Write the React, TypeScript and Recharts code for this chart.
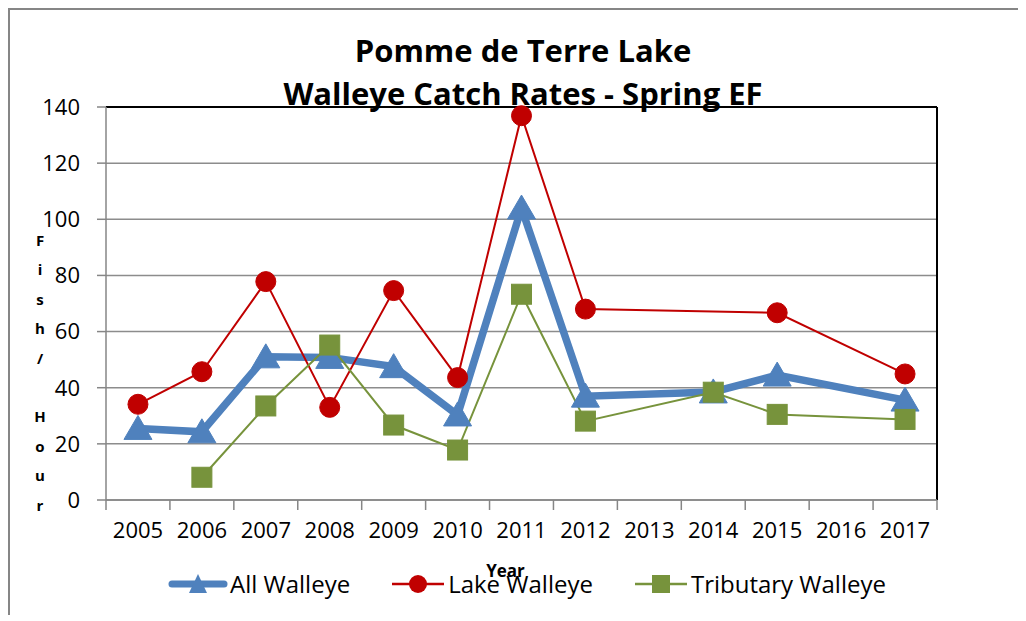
import React from 'react';
import {
  LineChart,
  Line,
  XAxis,
  YAxis,
  CartesianGrid,
  Legend,
  ReferenceLine,
} from 'recharts';

const YEARS = ['2005', '2006', '2007', '2008', '2009', '2010', '2011', '2012', '2013', '2014', '2015', '2016', '2017'];
const ALL_WALLEYE = [25.5, 24.3, 51, 50.8, 47.5, 30.3, 104, 37, null, 38.5, 44.5, null, 35.6];
const LAKE_WALLEYE = [34.1, 45.7, 77.8, 33, 74.6, 43.6, 136.9, 68, null, null, 66.7, null, 44.9];
const TRIB_WALLEYE = [null, 8.1, 33.5, 55.2, 26.7, 17.8, 73.3, 28.1, null, 38.4, 30.5, null, 28.7];
const Y_TICKS = [0, 20, 40, 60, 80, 100, 120, 140];
const TITLE_1 = 'Pomme de Terre Lake';
const TITLE_2 = 'Walleye Catch Rates - Spring EF';
const Y_LABEL = 'Fish/ Hour';
const X_LABEL = 'Year';
const SERIES_NAMES = ['All Walleye', 'Lake Walleye', 'Tributary Walleye'];

const BLUE = '#4F81BD';
const RED = '#C00000';
const GREEN = '#77933C';
const AXIS = '#868686';
const FONT = '"Open Sans", sans-serif';

const data = YEARS.map((y, i) => ({
  idx: i,
  year: y,
  all: ALL_WALLEYE[i],
  lake: LAKE_WALLEYE[i],
  trib: TRIB_WALLEYE[i],
}));

const labelTicks = YEARS.map((_, i) => i);
const boundaryTicks = [...YEARS.map((_, i) => i - 0.5), YEARS.length - 0.5];
const X_DOMAIN = [-0.5, YEARS.length - 0.5];

const TriangleDot = (props: any) => {
  const { cx, cy, index } = props;
  if (cx == null || cy == null || props.value == null) return <g key={`t${index}`} />;
  return (
    <polygon
      key={`t${index}`}
      points={`${cx},${cy - 13} ${cx - 14},${cy + 11} ${cx + 14},${cy + 11}`}
      fill={BLUE}
      stroke={BLUE}
    />
  );
};

const CircleDot = (props: any) => {
  const { cx, cy, index } = props;
  if (cx == null || cy == null || props.value == null) return <g key={`c${index}`} />;
  return <circle key={`c${index}`} cx={cx} cy={cy} r={10} fill={RED} stroke={RED} />;
};

const SquareDot = (props: any) => {
  const { cx, cy, index } = props;
  if (cx == null || cy == null || props.value == null) return <g key={`s${index}`} />;
  return <rect key={`s${index}`} x={cx - 10} y={cy - 10} width={20} height={20} fill={GREEN} stroke={GREEN} />;
};

const LegendIcon = ({ kind }: { kind: string }) => {
  if (kind === 'all') {
    return (
      <svg width={60} height={30}>
        <line x1={4} y1={15} x2={56} y2={15} stroke={BLUE} strokeWidth={7} strokeLinecap="round" />
        <polygon points="30,5 21,24 39,24" fill={BLUE} />
      </svg>
    );
  }
  if (kind === 'lake') {
    return (
      <svg width={56} height={30}>
        <line x1={2} y1={15} x2={54} y2={15} stroke={RED} strokeWidth={2.5} />
        <circle cx={28} cy={15} r={9} fill={RED} />
      </svg>
    );
  }
  return (
    <svg width={56} height={30}>
      <line x1={2} y1={15} x2={54} y2={15} stroke={GREEN} strokeWidth={2.5} />
      <rect x={19} y={6} width={18} height={18} fill={GREEN} />
    </svg>
  );
};

const renderLegend = (props: any) => {
  const { payload } = props;
  return (
    <div
      style={{
        display: 'flex',
        justifyContent: 'center',
        alignItems: 'center',
        gap: 40,
        paddingLeft: 18,
        fontFamily: FONT,
        fontSize: 24,
        color: '#000',
      }}
    >
      {(payload || []).map((entry: any) => (
        <div key={entry.dataKey} style={{ display: 'flex', alignItems: 'center' }}>
          <LegendIcon kind={entry.dataKey} />
          <span style={{ marginLeft: 2, lineHeight: '30px' }}>{entry.value}</span>
        </div>
      ))}
    </div>
  );
};

const YLabel = (props: any) => {
  const vb = props.viewBox || { x: 0, y: 0 };
  const chars = Y_LABEL.split('');
  return (
    <text fontFamily={FONT} fontWeight="bold" fontSize={15} textAnchor="middle" fill="#000">
      {chars.map((c, i) =>
        c === ' ' ? null : (
          <tspan key={i} x={vb.x + 30} y={vb.y + 139 + i * 29.4}>
            {c}
          </tspan>
        )
      )}
    </text>
  );
};

const XLabel = (props: any) => {
  const vb = props.viewBox || { x: 0, y: 0, width: 0, height: 0 };
  return (
    <text
      x={vb.x + vb.width / 2 - 16}
      y={vb.y + 67}
      fontFamily={FONT}
      fontWeight="bold"
      fontSize={17}
      textAnchor="middle"
      fill="#000"
    >
      {X_LABEL}
    </text>
  );
};

export default function App() {
  return (
    <div
      style={{
        position: 'relative',
        width: 1016,
        height: 605,
        borderLeft: `2px solid ${AXIS}`,
        borderTop: `2px solid ${AXIS}`,
        background: '#fff',
        fontFamily: FONT,
      }}
    >
      <LineChart
        width={1016}
        height={605}
        data={data}
        margin={{ top: 97, right: 89, left: 0, bottom: 30 }}
      >
        <CartesianGrid xAxisId="main" vertical={false} stroke="#8c8c8c" strokeWidth={1.5} />
        <XAxis
          xAxisId="grid"
          type="number"
          dataKey="idx"
          domain={X_DOMAIN}
          ticks={boundaryTicks}
          interval={0}
          tickFormatter={() => ''}
          tickSize={10}
          height={10}
          axisLine={{ stroke: AXIS, strokeWidth: 1.5 }}
          tickLine={{ stroke: AXIS, strokeWidth: 1.5 }}
          allowDecimals
        />
        <XAxis
          xAxisId="main"
          type="number"
          dataKey="idx"
          domain={X_DOMAIN}
          ticks={labelTicks}
          interval={0}
          tickFormatter={(i: number) => YEARS[i]}
          axisLine={false}
          tickLine={false}
          tickSize={0}
          tickMargin={12}
          height={75}
          tick={{ fill: '#000', fontSize: 22, fontFamily: FONT }}
          label={<XLabel />}
        />
        <YAxis
          type="number"
          domain={[0, 140]}
          ticks={Y_TICKS}
          interval={0}
          width={96}
          tickSize={9}
          tickMargin={17}
          axisLine={{ stroke: AXIS, strokeWidth: 1.5 }}
          tickLine={{ stroke: AXIS, strokeWidth: 1.5 }}
          tick={{ fill: '#000', fontSize: 22, fontFamily: FONT }}
          label={<YLabel />}
        />
        <ReferenceLine xAxisId="main" y={140} stroke="#000" strokeWidth={2} />
        <ReferenceLine xAxisId="main" x={X_DOMAIN[1]} stroke="#000" strokeWidth={2} />
        <Legend
          verticalAlign="middle"
          align="center"
          layout="horizontal"
          content={renderLegend}
          wrapperStyle={{ top: 559, left: 0, width: 1016 }}
        />
        <Line
          xAxisId="main"
          name={SERIES_NAMES[0]}
          dataKey="all"
          stroke={BLUE}
          strokeWidth={7.5}
          dot={TriangleDot}
          activeDot={false}
          connectNulls
          isAnimationActive={false}
        />
        <Line
          xAxisId="main"
          name={SERIES_NAMES[1]}
          dataKey="lake"
          stroke={RED}
          strokeWidth={2}
          dot={CircleDot}
          activeDot={false}
          connectNulls
          isAnimationActive={false}
        />
        <Line
          xAxisId="main"
          name={SERIES_NAMES[2]}
          dataKey="trib"
          stroke={GREEN}
          strokeWidth={2}
          dot={SquareDot}
          activeDot={false}
          connectNulls
          isAnimationActive={false}
        />
      </LineChart>
      <svg
        width={1016}
        height={115}
        style={{ position: 'absolute', left: 0, top: 0, pointerEvents: 'none' }}
      >
        <text x={513} y={52} textAnchor="middle" fontFamily={FONT} fontWeight="bold" fontSize={31} fill="#000">
          {TITLE_1}
        </text>
        <text x={513} y={95} textAnchor="middle" fontFamily={FONT} fontWeight="bold" fontSize={31} fill="#000">
          {TITLE_2}
        </text>
      </svg>
    </div>
  );
}
